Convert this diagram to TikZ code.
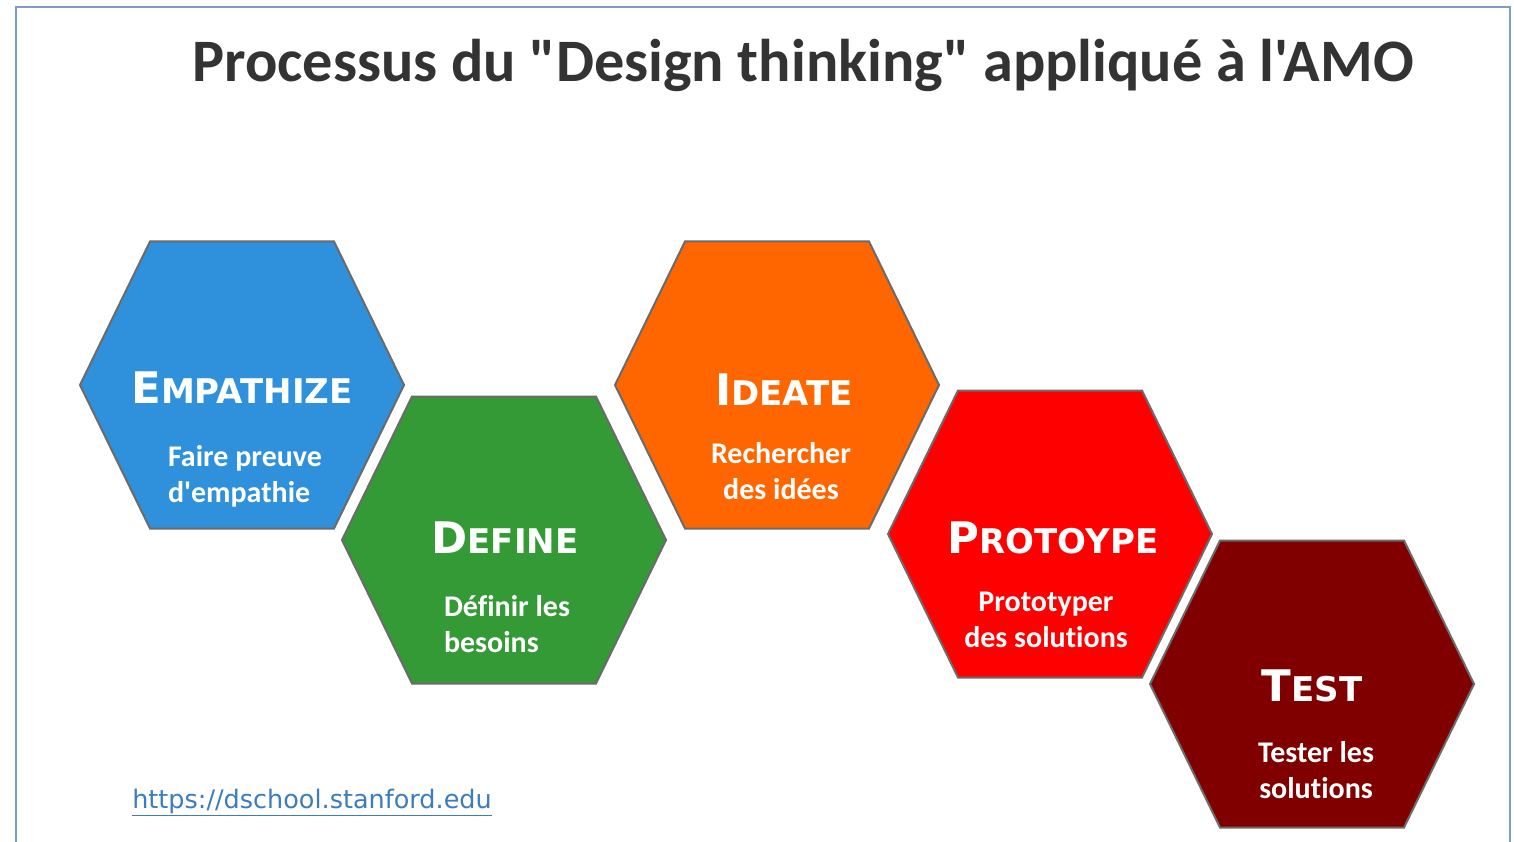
\documentclass[tikz,border=0pt]{standalone}
\usepackage{fontspec}
\setmainfont{Carlito}[Ligatures={TeXOff,NoCommon}]
\newfontfamily\urlfont{DejaVu Sans}
\newfontfamily\headfont{DejaVu Sans}
\usetikzlibrary{shapes,arrows}
\definecolor{frameblue}{HTML}{7F9DC3}
\definecolor{hexgray}{HTML}{6B6B6B}
\definecolor{titlegray}{HTML}{333333}
\definecolor{empblue}{HTML}{2F90DC}
\definecolor{defgreen}{HTML}{339A36}
\definecolor{ideorange}{HTML}{FF6600}
\definecolor{prored}{HTML}{FF0000}
\definecolor{tstred}{HTML}{800000}
\definecolor{linkblue}{HTML}{3D7DBD}
\newcommand\hexcaps[2]{{\fontsize{43.5}{43.5}\selectfont #1}{\fontsize{34}{34}\selectfont #2}}
\newcommand\hexa[2]{\draw[hex,fill=#2,shift={#1}] (-162,0) -- (-92,-143.5) -- (92,-143.5) -- (162,0) -- (92,143.5) -- (-92,143.5) -- cycle;}

\begin{document}
\begin{tikzpicture}[x=1pt,y=-1pt]
\tikzstyle{hex}=[draw=hexgray, line width=2pt];
\tikzstyle{head}=[text=white, font=\headfont\bfseries];
\tikzstyle{sub}=[text=white, font=\bfseries\fontsize{30}{36}\selectfont, align=center];

\useasboundingbox[fill=white] (0,0) rectangle (1514,842);
\draw[frameblue, line width=2.5pt] (16,7) rectangle (1510,880);

\node[text=titlegray, font=\bfseries\fontsize{60.3}{60}\selectfont] (title) at (803,65) {Processus du "Design thinking" appliqué à l'AMO};

\hexa{(242,385)}{empblue}
\hexa{(504,540)}{defgreen}
\hexa{(777,385)}{ideorange}
\hexa{(1050,534)}{prored}
\hexa{(1312,684)}{tstred}

\node[head] (empT) at (242,388) {\hexcaps{E}{MPATHIZE}};
\node[sub, align=left] (empS) at (245,476) {Faire preuve\\d'empathie};
\node[head] (defT) at (505,538) {\hexcaps{D}{EFINE}};
\node[sub, align=left] (defS) at (507,624) {Définir les\\besoins};
\node[head] (ideT) at (784,390) {\hexcaps{I}{DEATE}};
\node[sub] (ideS) at (781,471) {Rechercher\\des idées};
\node[head] (proT) at (1053,538) {\hexcaps{P}{ROTOYPE}};
\node[sub] (proS) at (1046,620) {Prototyper\\des solutions};
\node[head] (tstT) at (1312,686) {\hexcaps{T}{EST}};
\node[sub] (tstS) at (1316,770) {Tester les\\solutions};

\node[text=linkblue, font=\urlfont\fontsize{25.5}{25.5}\selectfont] (src) at (312,802) {\underline{https://dschool.stanford.edu}};
\end{tikzpicture}
\end{document}
